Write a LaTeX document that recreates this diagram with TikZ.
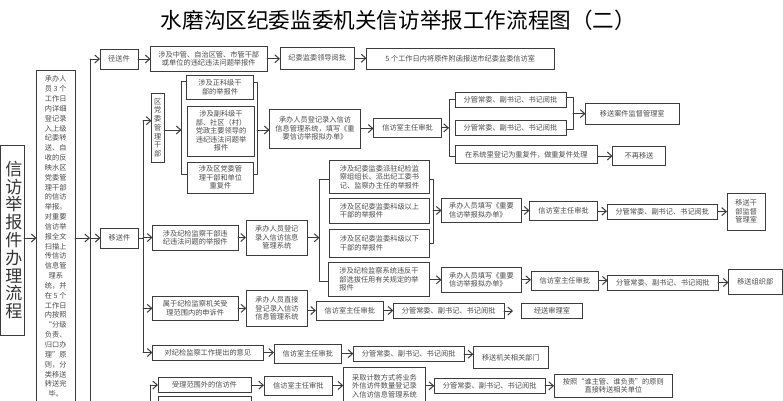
\documentclass[tikz,border=0pt]{standalone}
\usepackage{fontspec}
\setmainfont{Noto Sans CJK SC}
\usetikzlibrary{arrows.meta}
\definecolor{ink}{HTML}{4A4A4A}
\definecolor{edge}{HTML}{3C3C3C}
\tikzset{
  bxs/.style={draw=edge,line width=1pt,fill=white,inner sep=0pt,outer sep=0pt,align=center,text=ink,font=\fontsize{7.2}{8.5}\selectfont},
  lft/.style={align=left},
  ln/.style={draw=edge,line width=1pt,line cap=round,line join=round},
  arr/.style={ln,-{Straight Barb[length=4.5pt,width=8pt,line width=1pt]}}
}
% \bx[style]{name}{x1}{y1}{x2}{y2}{text}
\newcommand{\bx}[7][]{\node[bxs,minimum width={(#5)-(#3)},minimum height={(#6)-(#4)},#1] (#2) at ({((#3)+(#5))/2},{((#4)+(#6))/2}) {#7};}
\begin{document}
\begin{tikzpicture}[x=1pt,y=-1pt]
\useasboundingbox (0,0) rectangle (783,400);
\fill[white] (0,0) rectangle (783,400);
\clip (0,0) rectangle (783,400);
\node[inner sep=0pt,text=black,font=\fontsize{21.6}{24}\selectfont] (title) at (398.5,20) {水磨沟区纪委监委机关信访举报工作流程图（二）};
% left column
\bx[font=\fontsize{17}{17.8}\selectfont,text=black!80]{xf}{0.5}{145}{24}{335}{\hspace*{3pt}\parbox{17pt}{\centering 信\\访\\举\\报\\件\\办\\理\\流\\程}}
\bx[font=\fontsize{7.2}{9.84}\selectfont]{cb}{36.5}{70}{75}{403}{承办人\\员 3 个\\工作日\\内详细\\登记录\\入上级\\纪委转\\送、自\\收的反\\映水区\\党委管\\理干部\\的信访\\举报。\\对重要\\信访举\\报全文\\扫描上\\传信访\\信息管\\理系\\统，并\\在 5 个\\工作日\\内按照\\“分级\\负责、\\归口办\\理”原\\则，分\\类移送\\转送完\\毕。}
\coordinate (trA) at (90,59);
\coordinate (trB) at (143,120.7);
% first level
\bx{jing}{100}{49}{138}{69}{径送件}
\bx{yi}{100.5}{228}{138.5}{248}{移送件}
% row 1
\bx{zg}{150.5}{46.5}{267}{71}{涉及中管、自治区管、市管干部\\或单位的违纪违法问题举报件}
\bx{ld}{280}{47}{354.5}{69.5}{纪委监委领导阅批}
\bx{wr}{366.5}{48.7}{554}{69.3}{5 个工作日内将原件附函报送市纪委监委信访室}
% party cadre group
\bx[font=\fontsize{7.2}{8.7}\selectfont]{qd}{151.5}{93.5}{164}{162}{区\\党\\委\\管\\理\\干\\部}
\bx{zk}{186.5}{75}{253.5}{99.5}{涉及正科级干\\部的举报件}
\bx{fk}{187.5}{106}{254.5}{156}{涉及副科级干\\部、社区（村）\\党政主要领导的\\违纪违法问题举\\报件}
\bx{cf}{187.5}{162}{253.5}{193}{涉及区党委管\\理干部和单位\\重复件}
\bx{cbA}{269.5}{109}{360.5}{148}{承办人员登记录入信访\\信息管理系统，填写《重\\要信访举报拟办单》}
\bx{spA}{373.5}{118}{441.5}{137.7}{信访室主任审批}
\bx{fgA}{455}{92.3}{566}{107.3}{分管常委、副书记、书记阅批}
\bx{fgB}{455}{120}{566}{135}{分管常委、副书记、书记阅批}
\bx{xt}{455}{145.7}{597.5}{163.3}{在系统里登记为重复件，做重复件处理}
\bx{bz}{612.5}{146.7}{665.5}{165}{不再移送}
\bx{aj}{585.5}{103.3}{679}{124}{移送案件监督管理室}
% discipline cadre group
\bx{jj}{152.5}{225}{238}{250}{涉及纪检监察干部违\\纪违法问题的举报件}
\bx{cbB}{246}{220}{307.6}{255.5}{承办人员登记\\录入信访信息\\管理系统}
\bx{pz}{329.5}{160.7}{429.5}{193.3}{涉及纪委监委派驻纪检监\\察组组长、派出纪工委书\\记、监察办主任的举报件}
\bx[lft]{ks}{329.5}{198.3}{429.5}{223.3}{涉及区纪委监委科级以上\\干部的举报件}
\bx[lft]{kx}{329.5}{229.3}{429.5}{257.3}{涉及区纪委监委科级以下\\干部的举报件}
\bx[lft]{xb}{328.5}{262.7}{429.5}{296}{涉及纪检监察系统违反干\\部选拔任用有关规定的举\\报件}
\bx[lft]{cbC}{441.6}{198.3}{521.3}{222.7}{承办人员填写《重要\\信访举报拟办单》}
\bx[lft]{cbD}{441.6}{267.3}{521.3}{292.3}{承办人员填写《重要\\信访举报拟办单》}
\bx{spC}{529.5}{201.7}{597.7}{220.7}{信访室主任审批}
\bx{fgC}{607}{204}{717.6}{219.3}{分管常委、副书记、书记阅批}
\bx{gb}{727}{193.3}{765.5}{230}{移送干\\部监督\\管理室}
\bx{spD}{531}{271}{598.7}{290}{信访室主任审批}
\bx{fgD}{607.7}{275}{718}{290}{分管常委、副书记、书记阅批}
\bx{zz}{728.5}{269.3}{782}{294}{移送组织部}
% appeal row
\bx{ss}{152.5}{296}{238}{320.7}{属于纪检监察机关受\\理范围内的申诉件}
\bx{cbE}{246.3}{290.7}{307.6}{326}{承办人员直接\\登记录入信访\\信息管理系统}
\bx{spE}{316}{301}{383.7}{320}{信访室主任审批}
\bx{fgE}{393.3}{303.3}{504}{318.7}{分管常委、副书记、书记阅批}
\bx{sl}{521.3}{303.3}{582.7}{318.3}{经送审理室}
% opinion row
\bx{yj}{152.5}{345}{263.3}{360}{对纪检监察工作提出的意见}
\bx{spF}{274}{344}{341.7}{363.3}{信访室主任审批}
\bx{fgF}{353.3}{346.7}{464}{361.7}{分管常委、副书记、书记阅批}
\bx{jg}{473.3}{346.7}{548.3}{368.3}{移送机关相关部门}
% bottom row
\bx{fw}{158}{377.7}{251}{392.7}{受理范围外的信访件}
\bx{fwB}{158}{396.7}{251}{415}{}
\bx{spG}{264}{376}{332.7}{395}{信访室主任审批}
\bx{js}{343.3}{367.7}{425.7}{404}{采取计数方式将业务\\外信访件数量登记录\\入信访信息管理系统}
\bx{fgG}{434.3}{378.3}{545}{393.3}{分管常委、副书记、书记阅批}
\bx{zs}{554}{374.3}{672.7}{397.3}{按照“谁主管、谁负责”的原则\\直接转送相关单位}
% trunks
\draw[ln] (trA |- jing.west) -- (trA |- 0,410);
\draw[arr] (jing.west -| trA) -- (jing.west);
\draw[arr] (xf.east |- yi.west) -- (cb.west |- yi.west);
\draw[arr] (cb.east |- yi.west) -- (yi.west -| trA);
\draw[arr] (yi.west -| trA) -- (yi.west);
\draw[ln] (yi.east) -- (yi.east -| trB);
\draw[ln] (trB) -- (trB |- yj.west);
\draw[arr] (trB) -- (trB -| qd.west);
\draw[arr] (jj.west -| trB) -- (jj.west);
\draw[arr] (ss.west -| trB) -- (ss.west);
\draw[arr] (yj.west -| trB) -- (yj.west);
% row 1
\draw[arr] (jing.east) -- (jing.east -| zg.west);
\draw[arr] (zg.east) -- (zg.east -| ld.west);
\draw[arr] (ld.east) -- (ld.east -| wr.west);
% party cadre brackets
\coordinate (bLm) at (181.5,130);
\coordinate (bLt) at (181.5,81);
\coordinate (bLb) at (181.5,174);
\draw[arr] (bLm -| qd.east) -- (bLm);
\draw[ln] (zk.west |- bLt) -- (bLt) -- (bLb) -- (cf.west |- bLb);
\coordinate (bRm) at (257,130);
\coordinate (bRt) at (257,82);
\coordinate (bRb) at (257,174);
\draw[ln] (zk.east |- bRt) -- (bRt) -- (bRb) -- (cf.east |- bRb);
\draw[arr] (bRm) -- (bRm -| cbA.west);
\draw[arr] (cbA.east) -- (cbA.east -| spA.west);
\coordinate (cLt) at (449,99);
\coordinate (cLb) at (449,156);
\draw[ln] (fgA.west |- cLt) -- (cLt) -- (cLb) -- (xt.west |- cLb);
\draw[arr] (spA.east) -- (spA.east -| cLt);
\coordinate (cRt) at (573,97.7);
\coordinate (cRb) at (573,129);
\draw[ln] (fgA.east |- cRt) -- (cRt) -- (cRb) -- (fgB.east |- cRb);
\draw[arr] (aj.west -| cRt) -- (aj.west);
\coordinate (xtA) at (597.5,156);
\draw[arr] (xtA) -- (xtA -| bz.west);
% discipline cadre
\draw[arr] (jj.east) -- (jj.east -| cbB.west);
\coordinate (dLt) at (319.5,179);
\coordinate (dLb) at (319.5,281);
\draw[ln] (pz.west |- dLt) -- (dLt) -- (dLb) -- (xb.west |- dLb);
\draw[arr] (cbB.east) -- (cbB.east -| dLt);
\coordinate (dRt) at (433,179);
\coordinate (dRb) at (433,243);
\draw[ln] (pz.east |- dRt) -- (dRt) -- (dRb) -- (kx.east |- dRb);
\draw[arr] (cbC.west -| dRt) -- (cbC.west);
\draw[arr] (cbC.east) -- (spC.west |- cbC.east);
\draw[arr] (spC.east) -- (spC.east -| fgC.west);
\draw[arr] (fgC.east) -- (fgC.east -| gb.west);
\draw[arr] (xb.east |- cbD.west) -- (cbD.west);
\draw[arr] (cbD.east) -- (cbD.east -| spD.west);
\draw[arr] (spD.east) -- (spD.east -| fgD.west);
\draw[arr] (fgD.east) -- (fgD.east -| zz.west);
% appeal
\draw[arr] (ss.east) -- (ss.east -| cbE.west);
\draw[arr] (cbE.east |- spE.west) -- (spE.west);
\draw[arr] (spE.east) -- (spE.east -| fgE.west);
\coordinate (slTip) at (513,311);
\draw[arr] (fgE.east) -- (fgE.east -| slTip);
% opinion
\draw[arr] (yj.east) -- (yj.east -| spF.west);
\draw[arr] (spF.east) -- (spF.east -| fgF.west);
\draw[arr] (fgF.east) -- (fgF.east -| jg.west);
% bottom
\coordinate (trC) at (150,385);
\draw[ln] (trC) -- (150,410);
\draw[arr] (trC) -- (trC -| fw.west);
\draw[arr] (fw.east) -- (fw.east -| spG.west);
\draw[arr] (spG.east) -- (spG.east -| js.west);
\draw[arr] (js.east |- fgG.west) -- (fgG.west);
\draw[arr] (fgG.east) -- (fgG.east -| zs.west);
\end{tikzpicture}
\end{document}
